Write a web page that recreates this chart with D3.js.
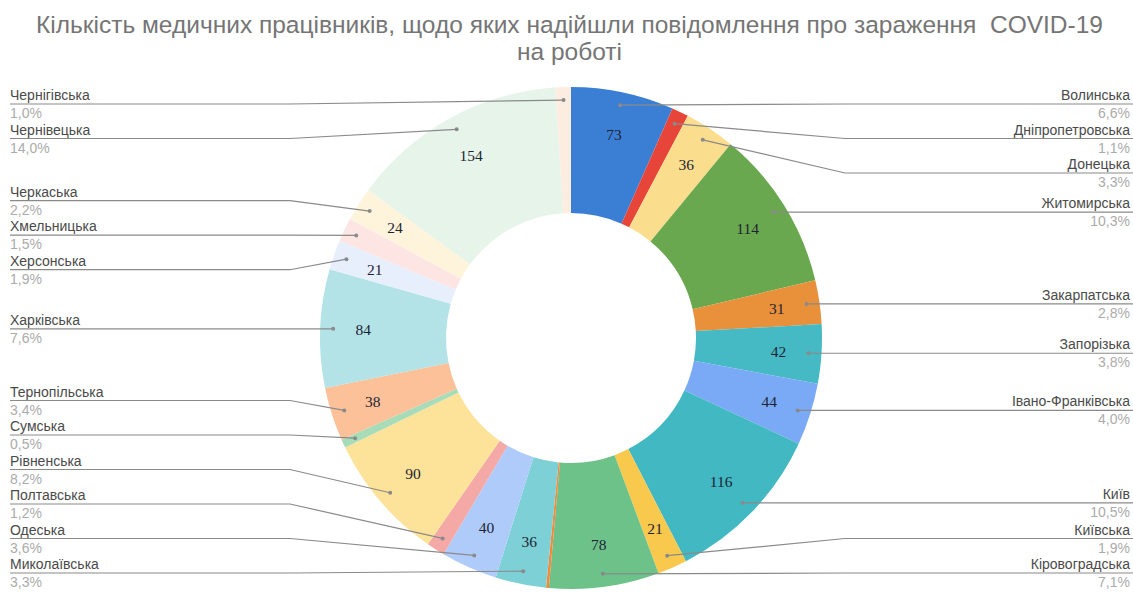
<!DOCTYPE html>
<html>
<head>
<meta charset="utf-8">
<script src="https://cdn.jsdelivr.net/npm/d3@7"></script>
<style>
  body { margin: 0; background: #fff; }
  svg { display: block; }
</style>
</head>
<body>
<div id="chart"></div>
<script>
// regions in chart order (clockwise from 12 o'clock)
const regions = ["Волинська", "Дніпропетровська", "Донецька", "Житомирська", "Закарпатська",
  "Запорізька", "Івано-Франківська", "Київ", "Київська", "Кіровоградська", "Луганська",
  "Миколаївська", "Одеська", "Полтавська", "Рівненська", "Сумська", "Тернопільська",
  "Харківська", "Херсонська", "Хмельницька", "Черкаська", "Чернівецька", "Чернігівська"];
const cases = [73, 12, 36, 114, 31, 42, 44, 116, 21, 78, 2,
  36, 40, 13, 90, 6, 38, 84, 21, 17, 24, 154, 11];
const colors = ["#3b7fd4", "#e8453a", "#fbdd8e", "#6aa84f", "#e8913a", "#45b9c4", "#7aa9f5",
  "#42b8c3", "#f8c94c", "#6dc28a", "#f5893a", "#7dd1d6", "#aecbfa", "#f4a9a6", "#fde399",
  "#a8dcb9", "#fcc199", "#b3e3e7", "#e7effc", "#fde5e4", "#fef4dc", "#e6f4ea", "#fdece0"];
const titleLines = ["Кількість медичних працівників, щодо яких надійшли повідомлення про зараження  COVID-19", "на роботі"];

const width = 1133, height = 596;
const cx = 571, cy = 338;
const rOuter = 251, rInner = 125, rDot = 238, rText = 208;
const gap = 34.5, yTop = 104, yBottom = 573;

const svg = d3.select("#chart").append("svg")
  .attr("width", width)
  .attr("height", height);

svg.selectAll(".title")
  .data(titleLines)
  .join("text")
  .attr("class", "title")
  .attr("x", width / 2 + 3)
  .attr("y", (d, i) => 33 + i * 27)
  .attr("text-anchor", "middle")
  .attr("font-family", "Liberation Sans, Arial, sans-serif")
  .attr("font-size", 24.5)
  .attr("fill", "#757575")
  .style("white-space", "pre")
  .text(d => d);

const data = regions.map((name, i) => ({ name, value: cases[i], color: colors[i] }));
const total = d3.sum(cases);

const pie = d3.pie().sort(null).value(d => d.value);
const arcs = pie(data);
const arc = d3.arc().innerRadius(rInner).outerRadius(rOuter);

const g = svg.append("g").attr("transform", `translate(${cx},${cy})`);

g.selectAll("path")
  .data(arcs)
  .join("path")
  .attr("d", arc)
  .attr("fill", d => d.data.color);

const mid = d => (d.startAngle + d.endAngle) / 2;

// value labels inside bigger slices
g.selectAll(".val")
  .data(arcs.filter(d => d.data.value / total >= 0.018))
  .join("text")
  .attr("class", "val")
  .attr("x", d => rText * Math.sin(mid(d)))
  .attr("y", d => -rText * Math.cos(mid(d)))
  .attr("dy", "0.35em")
  .attr("text-anchor", "middle")
  .attr("font-family", "Liberation Serif, Times New Roman, serif")
  .attr("font-size", 15.5)
  .attr("fill", "#1e2433")
  .text(d => d.data.value);

// outside labels
const labelled = arcs.filter(d => d.data.value / total >= 0.003).map(d => {
  const a = mid(d);
  return {
    d,
    right: a < Math.PI,
    dx: cx + rDot * Math.sin(a),
    dy: cy - rDot * Math.cos(a),
    y: cy - rDot * Math.cos(a)
  };
});

// spread labels on each side: merge overlapping groups, centre them on their ideal mean
function spread(items) {
  items.sort((a, b) => a.y - b.y);
  let groups = items.map(it => ({ items: [it] }));
  const place = grp => {
    const n = grp.items.length;
    let start = d3.mean(grp.items, it => it.y) - (n - 1) * gap / 2;
    start = Math.max(yTop, Math.min(yBottom - (n - 1) * gap, start));
    grp.start = start;
    grp.end = start + (n - 1) * gap;
  };
  groups.forEach(place);
  let merged = true;
  while (merged) {
    merged = false;
    for (let i = 0; i < groups.length - 1; i++) {
      if (groups[i + 1].start - groups[i].end < gap) {
        groups[i].items = groups[i].items.concat(groups[i + 1].items);
        groups.splice(i + 1, 1);
        place(groups[i]);
        merged = true;
        break;
      }
    }
  }
  groups.forEach(grp => grp.items.forEach((it, k) => { it.ly = grp.start + k * gap; }));
}
spread(labelled.filter(l => l.right));
spread(labelled.filter(l => !l.right));

const lab = svg.append("g");

lab.selectAll("polyline")
  .data(labelled)
  .join("polyline")
  .attr("fill", "none")
  .attr("stroke", "#8a8a8a")
  .attr("stroke-width", 1.2)
  .attr("points", l => l.right
    ? `${l.dx},${l.dy} ${Math.max(l.dx, 845)},${l.ly} ${width},${l.ly}`
    : `${l.dx},${l.dy} ${Math.min(l.dx, 290)},${l.ly} 10,${l.ly}`);

lab.selectAll("circle")
  .data(labelled)
  .join("circle")
  .attr("cx", l => l.dx)
  .attr("cy", l => l.dy)
  .attr("r", 2)
  .attr("fill", "#8a8a8a");

lab.selectAll(".name")
  .data(labelled)
  .join("text")
  .attr("class", "name")
  .attr("x", l => l.right ? width - 3 : 10)
  .attr("y", l => l.ly - 4)
  .attr("text-anchor", l => l.right ? "end" : "start")
  .attr("font-family", "Liberation Sans, Arial, sans-serif")
  .attr("font-size", 14)
  .attr("fill", "#4a4a4a")
  .text(l => l.d.data.name);

lab.selectAll(".pct")
  .data(labelled)
  .join("text")
  .attr("class", "pct")
  .attr("x", l => l.right ? width - 3 : 10)
  .attr("y", l => l.ly + 14)
  .attr("text-anchor", l => l.right ? "end" : "start")
  .attr("font-family", "Liberation Sans, Arial, sans-serif")
  .attr("font-size", 14)
  .attr("fill", "#ababab")
  .text(l => (l.d.data.value / total * 100).toFixed(1).replace(".", ",") + "%");
</script>
</body>
</html>
